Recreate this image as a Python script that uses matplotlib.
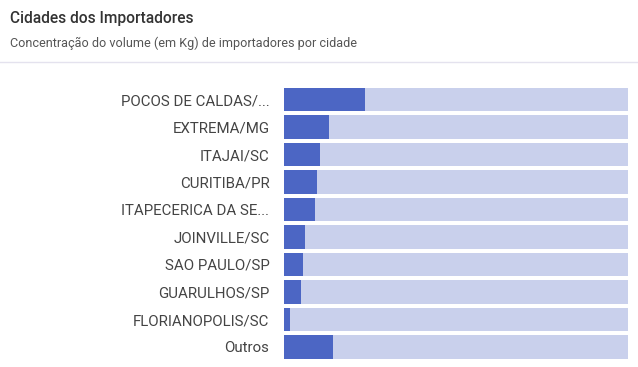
import matplotlib.pyplot as plt
from matplotlib.lines import Line2D

cidades = ["POCOS DE CALDAS/...", "EXTREMA/MG", "ITAJAI/SC", "CURITIBA/PR",
           "ITAPECERICA DA SE...", "JOINVILLE/SC", "SAO PAULO/SP",
           "GUARULHOS/SP", "FLORIANOPOLIS/SC", "Outros"]
percentual = [23.5, 13.1, 10.5, 9.6, 9.0, 6.1, 5.5, 4.9, 1.7, 14.2]
total = [100] * len(cidades)

plt.rcParams['font.family'] = ['Roboto', 'DejaVu Sans']

W, H = 638, 367
fig = plt.figure(figsize=(W / 100, H / 100), dpi=100)
fig.patch.set_facecolor('white')

# header
fig.text(10 / W, 1 - 18 / H, "Cidades dos Importadores", fontsize=11.2,
         fontweight='medium', color='#333333', va='center', ha='left')
fig.text(10 / W, 1 - 43 / H,
         "Concentração do volume (em Kg) de importadores por cidade",
         fontsize=9.1, color='#555555', va='center', ha='left')
fig.add_artist(Line2D([0, 1], [1 - 62 / H, 1 - 62 / H], color='#e4e2ee',
                      lw=1, transform=fig.transFigure))

ax = fig.add_axes([284 / W, 1 - 360.75 / H, 344 / W, 275 / H])
y = range(len(cidades))
ax.barh(y, total, height=0.84, color='#c9d0ec')
ax.barh(y, percentual, height=0.84, color='#4c66c4')
ax.set_xlim(0, 100)
ax.set_ylim(len(cidades) - 0.5, -0.5)
ax.set_yticks(list(y))
ax.set_yticklabels(cidades, fontsize=10.8, color='#444444')
ax.tick_params(axis='y', length=0, pad=10.5)
ax.set_xticks([])
for s in ax.spines.values():
    s.set_visible(False)

fig.savefig("out.png", dpi=100)
